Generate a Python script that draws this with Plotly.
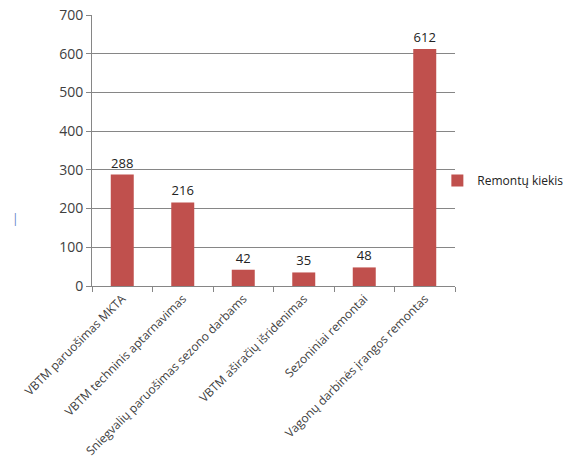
import plotly.graph_objects as go

categories = [
    "VBTM paruošimas MKTA",
    "VBTM techninis aptarnavimas",
    "Sniegvalių paruošimas sezono darbams",
    "VBTM aširačių išridenimas",
    "Sezoniniai remontai",
    "Vagonų darbinės įrangos remontas",
]
values = [288, 216, 42, 35, 48, 612]
series_name = "Remontų kiekis"
y_ticks = [0, 100, 200, 300, 400, 500, 600, 700]

font_family = "Open Sans, DejaVu Sans, sans-serif"

fig = go.Figure()
fig.add_trace(go.Bar(
    x=categories,
    y=values,
    name=series_name,
    marker=dict(color="#C0504D", line=dict(width=0)),
    text=[str(v) for v in values],
    textposition="outside",
    textfont=dict(size=13, color="#222222", family=font_family),
    cliponaxis=False,
    showlegend=True,
))

fig.add_annotation(
    xref="paper", yref="paper", x=-0.225, y=0.21,
    text="|", showarrow=False,
    font=dict(size=12, color="#5B84C4", family=font_family),
)

fig.update_layout(
    width=568,
    height=475,
    margin=dict(l=92, r=113, t=15, b=189, autoexpand=False),
    paper_bgcolor="white",
    plot_bgcolor="white",
    bargap=0.62,
    font=dict(family=font_family, size=13, color="#404040"),
    showlegend=True,
    legend=dict(
        xref="container", yref="container",
        x=0.77, xanchor="left", y=0.62, yanchor="middle",
        font=dict(size=12, color="#222222"),
        itemwidth=30,
        bgcolor="rgba(0,0,0,0)",
    ),
    xaxis=dict(
        type="category",
        tickangle=-45,
        automargin=False,
        showline=True, linecolor="#868686", linewidth=1,
        ticks="outside", ticklen=5, tickcolor="#868686",
        tickson="boundaries",
        showgrid=False,
        tickfont=dict(size=12, color="#404040"),
    ),
    yaxis=dict(
        range=[0, 700],
        tickvals=y_ticks,
        automargin=False,
        showline=True, linecolor="#868686", linewidth=1,
        ticks="outside", ticklen=5, tickcolor="#868686",
        showgrid=True, gridcolor="#868686", gridwidth=1,
        zeroline=False,
        tickfont=dict(size=14, color="#404040"),
    ),
)

fig.write_html("out.html")
